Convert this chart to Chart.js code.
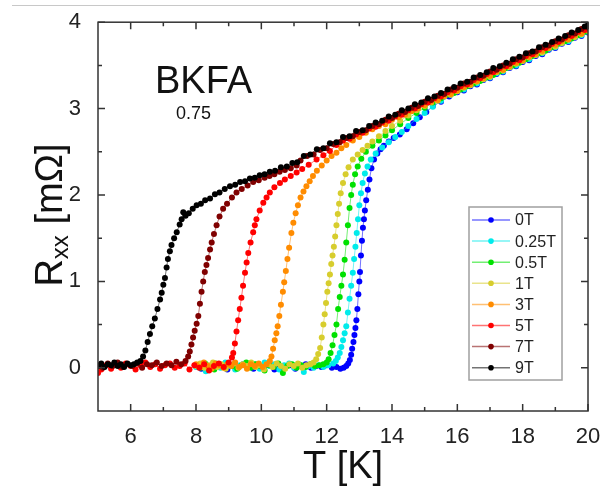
<!DOCTYPE html>
<html>
<head>
<meta charset="utf-8">
<script src="https://cdn.jsdelivr.net/npm/chart.js@4.4.1/dist/chart.umd.min.js"></script>
<style>
  html, body { margin: 0; padding: 0; background: #fff; }
  #wrap { width: 607px; height: 491px; position: relative; }
</style>
</head>
<body>
<div id="wrap"><canvas id="rxxChart"></canvas></div>
<script>
const fieldLabels = ['0T', '0.25T', '0.5T', '1T', '3T', '5T', '7T', '9T'];
const fieldColors = ['rgb(0,0,255)', 'rgb(0,235,235)', 'rgb(0,225,0)', 'rgb(215,205,45)',
  'rgb(255,140,0)', 'rgb(255,0,0)', 'rgb(128,0,0)', 'rgb(0,0,0)'];

const xTicks = [6, 8, 10, 12, 14, 16, 18, 20];
const xMinorTicks = [7, 9, 11, 13, 15, 17, 19];
const yTicks = [0, 1, 2, 3, 4];
const yMinorTicks = [0.5, 1.5, 2.5, 3.5];

// T [K], Rxx [mOhm]
const r0T = [[8.0,0.02],[8.16,-0.01],[8.32,0.03],[8.48,0.0],[8.64,0.04],[8.8,0.01],[8.96,-0.02],[9.12,0.03],[9.28,0.0],[9.44,0.04],[9.6,0.02],[9.76,-0.01],[9.92,0.03],[10.08,0.0],[10.24,0.04],[10.4,-0.02],[10.56,0.02],[10.72,0.0],[10.88,0.03],[11.04,-0.01],[11.2,0.02],[11.36,0.04],[11.52,0.0],[11.68,0.02],[11.84,0.01],[12.0,0.03],[12.16,0.0],[12.3,0.01],[12.42,-0.01],[12.52,0.0],[12.6,0.02],
  [12.66,0.05],[12.71,0.09],[12.75,0.15],[12.78,0.22],[12.82,0.3],[12.85,0.38],[12.88,0.46],[12.91,0.55],[12.94,0.68],[12.97,0.85],[13.0,1.0],[13.02,1.11],[13.05,1.3],[13.08,1.47],[13.11,1.62],[13.14,1.72],[13.17,1.82],[13.21,1.94],[13.26,2.06],[13.31,2.18],[13.37,2.31],[13.45,2.41],[13.55,2.48],[13.65,2.53],[13.75,2.57],[13.9,2.62],[14.05,2.66],[14.24,2.7],[14.45,2.76],[14.65,2.83],[14.85,2.9],[15.05,2.96],[15.25,3.03],[15.5,3.08],[15.75,3.14],
  [16.0,3.19],[16.2,3.21],[16.4,3.26],[16.6,3.28],[16.8,3.33],[17.0,3.35],[17.2,3.4],[17.4,3.42],[17.6,3.47],[17.8,3.49],[18.0,3.54],[18.2,3.56],[18.4,3.61],[18.6,3.63],[18.8,3.68],[19.0,3.7],[19.2,3.75],[19.4,3.77],[19.6,3.82],[19.8,3.84],[20.0,3.88]];

const r025T = [[8.0,0.01],[8.15,0.04],[8.3,-0.04],[8.45,0.02],[8.6,0.05],[8.75,0.0],[8.9,0.06],[9.05,0.02],[9.2,-0.02],[9.35,0.03],[9.5,0.05],[9.65,0.01],[9.8,0.04],[9.95,-0.01],[10.1,0.06],[10.25,0.02],[10.4,0.04],[10.55,-0.02],[10.7,0.03],[10.85,0.05],[11.0,0.0],[11.15,0.04],[11.3,-0.05],[11.45,0.02],[11.6,0.0],[11.75,0.03],[11.9,0.01],[12.05,0.03],[12.2,0.05],
  [12.28,0.08],[12.34,0.12],[12.4,0.17],[12.45,0.24],[12.5,0.32],[12.55,0.4],[12.6,0.48],[12.65,0.64],[12.7,0.8],[12.75,0.95],[12.8,1.1],[12.84,1.26],[12.88,1.4],[12.92,1.56],[12.96,1.72],[13.0,1.88],[13.05,2.02],[13.1,2.14],[13.17,2.25],[13.25,2.33],[13.35,2.41],[13.5,2.48],[13.7,2.55],[13.9,2.61],[14.1,2.67],[14.3,2.73],[14.5,2.8],[14.75,2.88],[15.0,2.95],[15.25,3.02],[15.5,3.09],
  [15.8,3.16],[16.0,3.2],[16.2,3.22],[16.4,3.27],[16.6,3.29],[16.8,3.34],[17.0,3.36],[17.2,3.41],[17.4,3.43],[17.6,3.48],[17.8,3.5],[18.0,3.55],[18.2,3.57],[18.4,3.62],[18.6,3.64],[18.8,3.69],[19.0,3.71],[19.2,3.76],[19.4,3.78],[19.6,3.83],[19.8,3.85],[20.0,3.89]];

const r05T = [[8.0,0.03],[8.14,0.0],[8.28,0.05],[8.42,0.02],[8.56,-0.02],[8.7,0.04],[8.84,0.01],[8.98,0.05],[9.12,0.02],[9.26,-0.01],[9.4,0.03],[9.54,0.06],[9.68,0.0],[9.82,0.04],[9.96,0.02],[10.1,-0.03],[10.24,0.03],[10.38,0.01],[10.52,0.05],[10.66,-0.06],[10.8,0.02],[10.94,0.04],[11.08,0.0],[11.22,0.03],[11.36,0.01],[11.5,0.04],[11.64,0.02],[11.78,0.03],[11.9,0.04],[12.0,0.06],
  [12.06,0.1],[12.12,0.17],[12.18,0.26],[12.24,0.38],[12.3,0.5],[12.35,0.68],[12.4,0.82],[12.45,0.95],[12.5,1.08],[12.55,1.25],[12.6,1.45],[12.65,1.65],[12.7,1.85],[12.75,2.0],[12.8,2.12],[12.87,2.24],[12.95,2.33],[13.06,2.42],[13.2,2.5],[13.4,2.57],[13.6,2.63],[13.8,2.69],[14.0,2.75],[14.25,2.82],[14.5,2.89],[14.75,2.95],[15.0,3.01],[15.25,3.07],
  [15.5,3.12],[15.7,3.16],[15.9,3.18],[16.1,3.22],[16.3,3.26],[16.5,3.29],[16.7,3.32],[16.9,3.36],[17.1,3.39],[17.3,3.43],[17.5,3.47],[17.7,3.5],[17.9,3.53],[18.1,3.57],[18.3,3.61],[18.5,3.64],[18.7,3.67],[18.9,3.71],[19.1,3.75],[19.3,3.78],[19.5,3.81],[19.7,3.85],[19.9,3.89],[20.0,3.9]];

const r1T = [[8.0,0.02],[8.13,0.05],[8.26,0.0],[8.39,0.03],[8.52,0.06],[8.65,0.01],[8.78,0.04],[8.91,-0.01],[9.04,0.03],[9.17,0.05],[9.3,0.0],[9.43,0.04],[9.56,0.02],[9.69,0.06],[9.82,0.01],[9.95,0.03],[10.08,-0.02],[10.21,0.04],[10.34,0.01],[10.47,0.05],[10.6,0.02],[10.73,-0.01],[10.86,0.04],[10.99,0.02],[11.12,0.05],[11.25,0.0],[11.38,0.03],[11.5,0.04],[11.6,0.06],
  [11.68,0.1],[11.74,0.16],[11.8,0.23],[11.85,0.35],[11.9,0.5],[11.94,0.62],[11.98,0.75],[12.02,0.88],[12.06,0.98],[12.1,1.08],[12.14,1.2],[12.18,1.3],[12.22,1.4],[12.26,1.52],[12.3,1.65],[12.34,1.78],[12.38,1.9],[12.43,2.02],[12.5,2.14],[12.58,2.24],[12.67,2.32],[12.8,2.41],[12.95,2.47],[13.1,2.52],[13.25,2.57],[13.4,2.62],[13.6,2.68],[13.8,2.74],[14.0,2.8],[14.25,2.86],[14.5,2.92],[14.75,2.98],[15.0,3.03],
  [15.2,3.07],[15.4,3.09],[15.6,3.14],[15.8,3.16],[16.0,3.2],[16.2,3.24],[16.4,3.27],[16.6,3.31],[16.8,3.34],[17.0,3.37],[17.2,3.42],[17.4,3.44],[17.6,3.48],[17.8,3.52],[18.0,3.55],[18.2,3.59],[18.4,3.62],[18.6,3.65],[18.8,3.7],[19.0,3.72],[19.2,3.76],[19.4,3.8],[19.6,3.83],[19.8,3.86],[20.0,3.9]];

const r3T = [[8.0,0.04],[8.12,0.01],[8.24,0.06],[8.36,0.02],[8.48,-0.01],[8.6,0.05],[8.72,0.03],[8.84,0.0],[8.96,0.04],[9.08,0.02],[9.2,0.06],[9.32,0.01],[9.44,0.03],[9.56,-0.01],[9.68,0.04],[9.8,0.02],[9.92,0.05],[10.04,0.01],[10.16,0.04],[10.26,0.08],
  [10.31,0.13],[10.36,0.22],[10.41,0.32],[10.46,0.4],[10.5,0.48],[10.55,0.6],[10.6,0.73],[10.66,0.88],[10.7,0.99],[10.75,1.12],[10.8,1.26],[10.85,1.39],[10.92,1.56],[10.98,1.68],[11.05,1.79],[11.12,1.88],[11.2,1.97],[11.29,2.04],[11.38,2.1],[11.48,2.16],[11.58,2.22],[11.7,2.28],[11.85,2.34],[12.0,2.4],[12.15,2.45],[12.3,2.49],[12.45,2.54],[12.6,2.58],[12.8,2.63],[13.0,2.67],[13.2,2.72],
  [13.4,2.76],[13.6,2.8],[13.8,2.82],[14.0,2.87],[14.2,2.9],[14.4,2.93],[14.6,2.97],[14.8,3.0],[15.0,3.04],[15.2,3.08],[15.4,3.1],[15.6,3.15],[15.8,3.17],[16.0,3.21],[16.2,3.25],[16.4,3.28],[16.6,3.32],[16.8,3.35],[17.0,3.38],[17.2,3.43],[17.4,3.45],[17.6,3.49],[17.8,3.53],[18.0,3.56],[18.2,3.6],[18.4,3.63],[18.6,3.67],[18.8,3.7],[19.0,3.74],[19.2,3.78],[19.4,3.8],[19.6,3.85],[19.8,3.87],[20.0,3.91]];

const r5T = [[5.0,-0.06],[5.1,-0.02],[5.25,0.03],[5.4,-0.01],[5.55,0.04],[5.7,0.0],[5.85,0.05],[6.0,0.02],[6.15,-0.02],[6.3,0.03],[6.45,0.06],[6.6,0.01],[6.75,0.04],[6.9,-0.01],[7.05,0.03],[7.2,0.05],[7.35,0.0],[7.5,0.02],[7.65,0.05],[7.8,-0.02],[7.95,0.03],[8.1,0.0],[8.25,0.04],[8.4,-0.03],[8.55,0.02],[8.7,0.05],[8.85,0.01],[9.0,0.06],
  [9.1,0.12],[9.14,0.17],[9.19,0.28],[9.24,0.42],[9.29,0.55],[9.34,0.68],[9.39,0.81],[9.44,0.95],[9.5,1.1],[9.55,1.22],[9.6,1.33],[9.67,1.45],[9.75,1.57],[9.8,1.65],[9.85,1.72],[9.95,1.82],[10.06,1.91],[10.16,1.97],[10.26,2.03],[10.4,2.09],[10.57,2.14],[10.72,2.18],[10.9,2.22],[11.08,2.26],[11.25,2.3],[11.45,2.35],[11.69,2.41],[11.9,2.46],[12.1,2.51],
  [12.3,2.58],[12.5,2.63],[12.7,2.65],[12.9,2.7],[13.1,2.72],[13.3,2.77],[13.5,2.79],[13.7,2.84],[13.9,2.86],[14.1,2.91],[14.3,2.93],[14.5,2.98],[14.7,3.0],[14.9,3.05],[15.1,3.07],[15.3,3.12],[15.5,3.14],[15.7,3.19],[15.9,3.21],[16.1,3.26],[16.3,3.28],[16.5,3.33],[16.7,3.35],[16.9,3.4],[17.1,3.42],[17.3,3.47],[17.5,3.49],[17.7,3.54],[17.9,3.56],[18.1,3.61],[18.3,3.63],[18.5,3.68],[18.7,3.7],[18.9,3.75],[19.1,3.77],[19.3,3.82],[19.5,3.84],[19.7,3.89],[19.9,3.91],[20.0,3.94]];

const r7T = [[5.0,0.03],[5.15,0.0],[5.3,0.05],[5.45,0.02],[5.6,0.06],[5.75,0.01],[5.9,0.04],[6.05,0.02],[6.2,0.05],[6.35,0.0],[6.5,0.04],[6.65,0.03],[6.8,0.06],[6.95,0.02],[7.1,0.05],[7.25,0.03],[7.4,0.07],[7.55,0.04],[7.68,0.08],
  [7.76,0.13],[7.81,0.19],[7.86,0.27],[7.91,0.35],[7.96,0.43],[8.02,0.51],[8.07,0.6],[8.12,0.74],[8.17,0.88],[8.22,1.0],[8.27,1.11],[8.32,1.19],[8.37,1.27],[8.43,1.37],[8.48,1.45],[8.55,1.55],[8.63,1.65],[8.72,1.75],[8.83,1.84],[8.95,1.9],[9.1,1.97],[9.24,2.03],[9.4,2.07],[9.58,2.11],[9.75,2.15],[9.92,2.17],[10.1,2.2],[10.25,2.22],[10.4,2.24],[10.56,2.27],[10.72,2.29],[10.9,2.31],[11.08,2.34],
  [11.2,2.4],[11.4,2.45],[11.6,2.47],[11.8,2.52],[12.0,2.54],[12.2,2.59],[12.4,2.61],[12.6,2.66],[12.8,2.68],[13.0,2.73],[13.2,2.75],[13.4,2.8],[13.6,2.82],[13.8,2.87],[14.0,2.89],[14.2,2.94],[14.4,2.96],[14.6,3.01],[14.8,3.03],[15.0,3.08],[15.2,3.1],[15.4,3.15],[15.6,3.17],[15.8,3.22],[16.0,3.24],[16.2,3.29],[16.4,3.31],[16.6,3.36],[16.8,3.38],[17.0,3.43],[17.2,3.45],[17.4,3.5],[17.6,3.52],[17.8,3.57],[18.0,3.59],[18.2,3.64],[18.4,3.66],[18.6,3.71],[18.8,3.73],[19.0,3.78],[19.2,3.8],[19.4,3.85],[19.6,3.87],[19.8,3.92],[20.0,3.94]];

const r9T = [[5.0,0.02],[5.1,0.05],[5.2,0.01],[5.3,0.04],[5.4,0.03],[5.5,0.06],[5.6,0.02],[5.7,0.04],[5.8,0.01],[5.9,0.05],[6.0,0.03],[6.1,0.04],[6.2,0.06],[6.3,0.08],
  [6.38,0.13],[6.45,0.2],[6.52,0.3],[6.59,0.39],[6.66,0.48],[6.74,0.57],[6.82,0.68],[6.9,0.79],[6.95,0.87],[7.0,0.96],[7.05,1.04],[7.1,1.16],[7.14,1.26],[7.2,1.35],[7.25,1.42],[7.33,1.5],[7.41,1.57],[7.5,1.66],[7.56,1.72],[7.61,1.8],[7.68,1.76],[7.78,1.79],[7.9,1.84],[8.02,1.88],[8.15,1.9],[8.28,1.94],[8.43,1.96],[8.58,2.01],[8.72,2.03],[8.88,2.07],[9.04,2.1],[9.2,2.12],[9.35,2.15],[9.5,2.16],[9.65,2.19],[9.8,2.2],[9.95,2.23],[10.1,2.24],[10.26,2.27],[10.42,2.28],[10.6,2.32],[10.78,2.33],[10.95,2.37],[11.1,2.38],
  [11.3,2.45],[11.5,2.47],[11.7,2.53],[11.9,2.54],[12.1,2.6],[12.3,2.61],[12.5,2.67],[12.7,2.68],[12.9,2.74],[13.1,2.75],[13.3,2.8],[13.5,2.84],[13.7,2.86],[13.9,2.91],[14.1,2.93],[14.3,2.98],[14.5,3.0],[14.7,3.05],[14.9,3.07],[15.1,3.12],[15.3,3.14],[15.5,3.18],[15.7,3.22],[15.9,3.25],[16.1,3.29],[16.3,3.31],[16.5,3.36],[16.7,3.39],[16.9,3.42],[17.1,3.47],[17.3,3.49],[17.5,3.53],[17.7,3.57],[17.9,3.6],[18.1,3.64],[18.3,3.66],[18.5,3.71],[18.7,3.74],[18.9,3.77],[19.1,3.81],[19.3,3.84],[19.5,3.88],[19.7,3.91],[19.9,3.95],[20.0,3.97]];

const seriesData = [r0T, r025T, r05T, r1T, r3T, r5T, r7T, r9T];

const FONT = '"Liberation Sans", Arial, Helvetica, sans-serif';

function fade(rgb, a) {
  return rgb.replace('rgb(', 'rgba(').replace(')', ',' + a + ')');
}

// frame, inner ticks, titles, legend box
const framePlugin = {
  id: 'frame',
  afterDraw(chart) {
    const ctx = chart.ctx;
    const a = chart.chartArea;
    const xs = chart.scales.x;
    const ys = chart.scales.y;
    ctx.save();

    // thin grey line at the very top of the picture
    ctx.strokeStyle = '#c8c8c8';
    ctx.lineWidth = 1;
    ctx.beginPath();
    ctx.moveTo(12, 5.5);
    ctx.lineTo(600, 5.5);
    ctx.stroke();

    ctx.strokeStyle = '#333';
    ctx.lineWidth = 1.5;
    ctx.strokeRect(a.left, a.top, a.right - a.left, a.bottom - a.top);

    ctx.beginPath();
    const tickX = (vals, len) => vals.forEach(v => {
      const px = xs.getPixelForValue(v);
      ctx.moveTo(px, a.bottom); ctx.lineTo(px, a.bottom - len);
      ctx.moveTo(px, a.top); ctx.lineTo(px, a.top + len);
    });
    const tickY = (vals, len) => vals.forEach(v => {
      const py = ys.getPixelForValue(v);
      ctx.moveTo(a.left, py); ctx.lineTo(a.left + len, py);
      ctx.moveTo(a.right, py); ctx.lineTo(a.right - len, py);
    });
    tickX(xTicks, 7);
    tickX(xMinorTicks, 4);
    tickY(yTicks, 7);
    tickY(yMinorTicks, 4);
    ctx.stroke();

    // axis titles
    ctx.fillStyle = '#111';
    ctx.textAlign = 'center';
    ctx.textBaseline = 'alphabetic';
    ctx.font = '38px ' + FONT;
    ctx.fillText('T [K]', (a.left + a.right) / 2, 478);

    ctx.save();
    ctx.translate(62, 215);
    ctx.rotate(-Math.PI / 2);
    ctx.textAlign = 'left';
    ctx.font = '38px ' + FONT;
    const wR = ctx.measureText('R').width;
    const wRest = ctx.measureText(' [mΩ]').width;
    ctx.font = '24px ' + FONT;
    const wSub = ctx.measureText('xx').width;
    let x0 = -(wR + wSub + wRest) / 2;
    ctx.font = '38px ' + FONT;
    ctx.fillText('R', x0, 0);
    ctx.font = '24px ' + FONT;
    ctx.fillText('xx', x0 + wR, 6);
    ctx.font = '38px ' + FONT;
    ctx.fillText(' [mΩ]', x0 + wR + wSub, 0);
    ctx.restore();

    // sample label
    ctx.textAlign = 'left';
    ctx.font = '38px ' + FONT;
    ctx.fillText('BKFA', 155, 93);
    ctx.font = '18px ' + FONT;
    ctx.fillText('0.75', 176, 119);

    // legend
    ctx.strokeStyle = '#a0a0a0';
    ctx.lineWidth = 1.5;
    ctx.fillStyle = '#fff';
    ctx.fillRect(469, 207, 93, 173);
    ctx.strokeRect(469, 207, 93, 173);
    ctx.font = '16px ' + FONT;
    ctx.textBaseline = 'middle';
    chart.data.datasets.forEach((ds, i) => {
      const y = 220 + i * 21.1;
      ctx.strokeStyle = ds.borderColor;
      ctx.lineWidth = 1.5;
      ctx.beginPath();
      ctx.moveTo(472, y); ctx.lineTo(510, y);
      ctx.stroke();
      ctx.fillStyle = ds.pointBackgroundColor;
      ctx.beginPath();
      ctx.arc(491, y, 2.8, 0, Math.PI * 2);
      ctx.fill();
      ctx.fillStyle = '#222';
      ctx.fillText(ds.label, 515, y + 1);
    });
    ctx.restore();
  }
};

function createChart() {
  const ctx = document.getElementById('rxxChart').getContext('2d');
  const datasets = seriesData.map((pts, i) => ({
    label: fieldLabels[i],
    data: pts.map(p => ({ x: p[0], y: p[1] })),
    borderColor: fade(fieldColors[i], 0.55),
    borderWidth: 1,
    pointRadius: 3,
    pointBorderWidth: 0,
    pointBackgroundColor: fieldColors[i],
    order: fieldLabels.length - 1 - i,  // 9T drawn on top
    fill: false
  }));

  new Chart(ctx, {
    type: 'line',
    data: { datasets: datasets },
    options: {
      responsive: true,
      maintainAspectRatio: false,
      animation: false,
      layout: { padding: { top: 18, right: 19, left: 0, bottom: 0 } },
      plugins: { legend: { display: false }, tooltip: { enabled: false } },
      scales: {
        x: {
          type: 'linear',
          min: 5,
          max: 20,
          grid: { display: false },
          border: { display: false },
          afterBuildTicks: axis => { axis.ticks = xTicks.map(v => ({ value: v })); },
          afterFit: scale => { scale.height = 80; },
          ticks: { color: '#222', font: { family: FONT, size: 22 }, padding: 5 }
        },
        y: {
          type: 'linear',
          min: -0.5,
          max: 4,
          grid: { display: false },
          border: { display: false },
          afterBuildTicks: axis => { axis.ticks = yTicks.map(v => ({ value: v })); },
          afterFit: scale => { scale.width = 98; },
          ticks: { color: '#222', font: { family: FONT, size: 22 }, padding: 9 }
        }
      }
    },
    plugins: [framePlugin]
  });
}

window.addEventListener('DOMContentLoaded', createChart);
</script>
</body>
</html>
